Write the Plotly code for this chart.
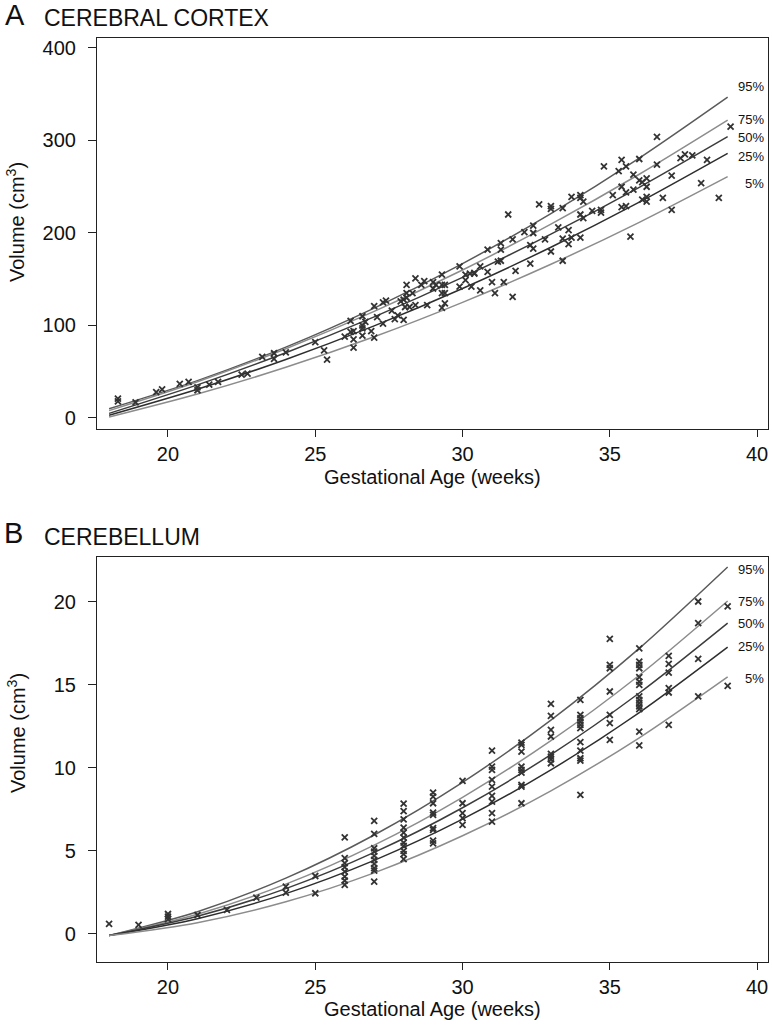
import plotly.graph_objects as go

FONT = "Liberation Sans, Arial, sans-serif"

# ---------------- data ----------------
curve_weeks = [18, 21, 24, 27, 30, 33, 36, 39]
percentile_names = ["95%", "75%", "50%", "25%", "5%"]

cortex_p95 = [10, 40.4, 76.6, 118.8, 166.9, 221.0, 280.9, 346.8]
cortex_p75 = [8, 39.2, 74.9, 115.2, 160.0, 209.5, 263.5, 322.0]
cortex_p50 = [5, 35.8, 70.6, 109.3, 152.0, 198.7, 249.4, 304.1]
cortex_p25 = [3, 31.1, 63.3, 99.6, 140.0, 184.6, 233.3, 286.1]
cortex_p05 = [1, 25.9, 54.8, 87.8, 125.0, 166.2, 211.5, 260.9]

cereb_p95 = [-0.1, 1.34, 3.36, 5.96, 9.13, 12.88, 17.20, 22.10]
cereb_p75 = [-0.1, 1.19, 3.00, 5.35, 8.23, 11.64, 15.58, 20.05]
cereb_p50 = [-0.1, 1.06, 2.73, 4.91, 7.60, 10.80, 14.51, 18.72]
cereb_p25 = [-0.1, 0.92, 2.43, 4.43, 6.91, 9.88, 13.33, 17.27]
cereb_p05 = [-0.1, 0.68, 1.94, 3.68, 5.91, 8.62, 11.81, 15.48]

cortex_age = [
    18.3, 18.3, 18.9, 19.6, 19.8, 20.4, 20.7, 21.0, 21.0, 21.4, 21.7, 22.5, 22.7,
    23.2, 23.6, 23.6, 24.0, 25.0, 25.3, 25.4, 26.2, 26.0, 26.2, 26.3, 26.3, 26.3,
    26.6, 26.6, 26.6, 26.7, 26.6, 26.9, 27.0, 27.0, 27.1, 27.3, 27.3, 27.4, 27.6,
    27.7, 27.8, 28.0, 27.9, 28.0, 28.1, 28.05, 28.2, 28.4, 28.1, 28.1, 28.3, 28.4,
    28.6, 28.7, 28.8, 29.0, 29.0, 29.1, 29.3, 29.3, 29.4, 29.3, 29.4, 29.3, 29.4,
    29.9, 29.9, 30.1, 30.25, 30.4, 30.1, 30.4, 30.3, 30.6, 30.6, 30.85, 30.85,
    31.0, 31.1, 31.3, 31.3, 31.2, 31.3, 31.4, 31.55, 31.7, 31.7, 31.8, 32.1, 32.3,
    32.4, 32.4, 32.3, 32.4, 32.6, 32.8, 33.0, 33.0, 33.0, 33.25, 33.4, 33.4, 33.4,
    33.6, 33.6, 33.7, 33.7, 34.0, 34.0, 34.0, 34.0, 34.1, 34.1, 34.4, 34.7, 34.7,
    34.8, 35.1, 35.3, 35.4, 35.4, 35.4, 35.55, 35.55, 35.55, 35.7, 35.8, 35.8,
    36.0, 36.0, 36.6, 36.6, 36.25, 36.25, 36.1, 36.25, 36.25, 36.1, 36.8, 37.1,
    37.1, 37.4, 37.55, 37.8, 38.3, 38.1, 38.7, 39.1,
]
cortex_vol = [
    21, 18, 17, 28, 31, 37, 39, 33, 30, 36, 39, 47, 48,
    66, 70, 64, 71, 82, 73, 63, 105, 88, 93, 94, 85, 76,
    110, 100, 97, 104, 89, 94, 87, 121, 109, 125, 102, 127, 116,
    107, 111, 106, 126, 128, 130, 120, 120, 122, 135, 144, 135, 151,
    144, 148, 122, 147, 140, 144, 155, 144, 144, 135, 135, 119, 124,
    164, 142, 155, 156, 156, 149, 157, 142, 164, 138, 182, 158,
    147, 135, 189, 182, 169, 170, 147, 220, 193, 131, 159, 201, 167,
    208, 200, 187, 183, 231, 193, 229, 226, 180, 206, 227, 194, 170,
    203, 188, 239, 195, 241, 238, 220, 195, 234, 216, 224, 225, 222,
    272, 241, 267, 279, 250, 228, 272, 244, 229, 196, 263, 247,
    280, 257, 304, 274, 259, 250, 255, 239, 234, 236, 238, 225,
    262, 281, 285, 284, 279, 254, 238, 315,
]

cereb_age = (
    [18, 19, 20, 20, 20, 21, 22, 23, 24, 24, 25, 25]
    + [26] * 8 + [27] * 10 + [28] * 11 + [29] * 9 + [30] * 5 + [31] * 9
    + [32] * 9 + [33] * 8 + [34] * 11 + [35] * 7 + [36] * 14 + [37] * 6
    + [38] * 4 + [39] * 2
)
cereb_vol = (
    [0.60, 0.54, 1.20, 1.04, 0.89, 1.14, 1.45, 2.19, 2.85, 2.49, 3.49, 2.45]
    + [5.82, 4.56, 4.26, 4.02, 3.75, 3.45, 3.21, 2.95]
    + [6.81, 6.02, 5.16, 4.96, 4.70, 4.46, 4.22, 3.96, 3.81, 3.15]
    + [7.85, 7.4, 6.9, 6.4, 6.1, 5.8, 5.5, 5.3, 5.0, 4.8, 4.5]
    + [8.51, 8.27, 7.87, 7.31, 7.17, 6.37, 6.27, 5.62, 5.46]
    + [9.22, 7.87, 7.27, 6.97, 6.57]
    + [11.04, 10.08, 9.88, 9.28, 8.87, 8.31, 7.97, 7.27, 6.77]
    + [11.52, 11.39, 10.98, 10.08, 9.88, 9.72, 8.98, 8.87, 7.87]
    + [13.86, 13.13, 12.29, 11.89, 10.84, 10.68, 10.52, 10.28]
    + [14.10, 13.19, 12.99, 12.79, 12.59, 12.39, 11.55, 11.04, 10.58, 10.44, 8.37]
    + [17.77, 16.2, 16.0, 14.6, 13.19, 12.69, 11.69]
    + [17.2, 16.4, 16.2, 16.0, 15.46, 15.2, 15.0, 14.3, 14.1, 13.9, 13.7, 13.54, 12.19, 11.35]
    + [16.75, 16.27, 15.74, 14.8, 14.54, 12.59]
    + [20.02, 18.72, 16.57, 14.3]
    + [19.72, 14.94]
)

x_ticks = [20, 25, 30, 35, 40]
cortex_y_ticks = [0, 100, 200, 300, 400]
cereb_y_ticks = [0, 5, 10, 15, 20]

# ---------------- styles ----------------
curve_colors = ["#5a5a5a", "#8c8c8c", "#3c3c3c", "#2e2e2e", "#8c8c8c"]
marker_color = "#333333"

fig = go.Figure()

panels = [
    ("x", "y", [cortex_p95, cortex_p75, cortex_p50, cortex_p25, cortex_p05], cortex_age, cortex_vol),
    ("x2", "y2", [cereb_p95, cereb_p75, cereb_p50, cereb_p25, cereb_p05], cereb_age, cereb_vol),
]
for xa, ya, curves, ages, vols in panels:
    for name, vals, col in zip(percentile_names, curves, curve_colors):
        fig.add_trace(go.Scatter(
            x=curve_weeks, y=vals, mode="lines", name=name,
            line=dict(color=col, width=1.5, shape="spline", smoothing=0.8),
            xaxis=xa, yaxis=ya, showlegend=False, hoverinfo="skip"))
    fig.add_trace(go.Scatter(
        x=ages, y=vols, mode="markers",
        marker=dict(symbol="x-thin", size=6, color=marker_color,
                    line=dict(color=marker_color, width=1.8)),
        xaxis=xa, yaxis=ya, showlegend=False))

W, H = 772, 1025
xdom = [97 / W, 768 / W]
ydomA = [(H - 429) / H, (H - 38) / H]
ydomB = [(H - 962) / H, (H - 557) / H]

axis_common = dict(
    showline=True, mirror=True, linecolor="#222", linewidth=1.2,
    ticks="outside", tickcolor="#222", tickwidth=1,
    showgrid=False, zeroline=False,
    tickfont=dict(family=FONT, size=20, color="#111"),
)

fig.update_layout(
    width=W, height=H,
    margin=dict(l=0, r=0, t=0, b=0),
    paper_bgcolor="white", plot_bgcolor="white",
    xaxis=dict(domain=xdom, range=[17.59, 40.37], tickvals=x_ticks, anchor="y",
               ticklen=7, ticklabelstandoff=0, **axis_common),
    yaxis=dict(domain=ydomA, range=[-11.9, 410.8], tickvals=cortex_y_ticks, anchor="x",
               ticklen=8, ticklabelstandoff=8, **axis_common),
    xaxis2=dict(domain=xdom, range=[17.59, 40.37], tickvals=x_ticks, anchor="y2",
                ticklen=7, ticklabelstandoff=0, **axis_common),
    yaxis2=dict(domain=ydomB, range=[-1.69, 22.7], tickvals=cereb_y_ticks, anchor="x2",
                ticklen=8, ticklabelstandoff=8, **axis_common),
)

def py(p):
    return (H - p) / H

ann = []
# panel letters and titles
ann.append(dict(text="A", x=3 / W, y=py(15), xanchor="left", yanchor="middle",
                font=dict(family=FONT, size=29, color="#111")))
ann.append(dict(text="CEREBRAL CORTEX", x=42 / W, y=py(18), xanchor="left", yanchor="middle",
                font=dict(family=FONT, size=23, color="#111")))
ann.append(dict(text="B", x=2 / W, y=py(533), xanchor="left", yanchor="middle",
                font=dict(family=FONT, size=29, color="#111")))
ann.append(dict(text="CEREBELLUM", x=42 / W, y=py(537), xanchor="left", yanchor="middle",
                font=dict(family=FONT, size=23, color="#111")))
# axis titles
for yc in (477, 1009):
    ann.append(dict(text="Gestational Age (weeks)", x=432 / W, y=py(yc), xanchor="center",
                    yanchor="middle", font=dict(family=FONT, size=20, color="#111")))
for yc in (222, 733):
    ann.append(dict(text="Volume (cm<sup>3</sup>)", x=16 / W, y=py(yc), xanchor="center",
                    yanchor="middle", textangle=-90,
                    font=dict(family=FONT, size=20, color="#111")))
# percentile labels
labA = [87, 120, 137, 156, 183]
labB = [569, 601, 623, 646, 679]
for name, a, b in zip(percentile_names, labA, labB):
    for yy in (a, b):
        ann.append(dict(text=name, x=766 / W, y=py(yy), xanchor="right", yanchor="middle",
                        font=dict(family=FONT, size=13, color="#111")))

for a in ann:
    a.update(xref="paper", yref="paper", showarrow=False)
fig.update_layout(annotations=ann)

fig.write_html(
    "out.html",
    config={"displayModeBar": False},
    post_script="document.body.style.margin='0';document.body.style.overflow='hidden';",
)
